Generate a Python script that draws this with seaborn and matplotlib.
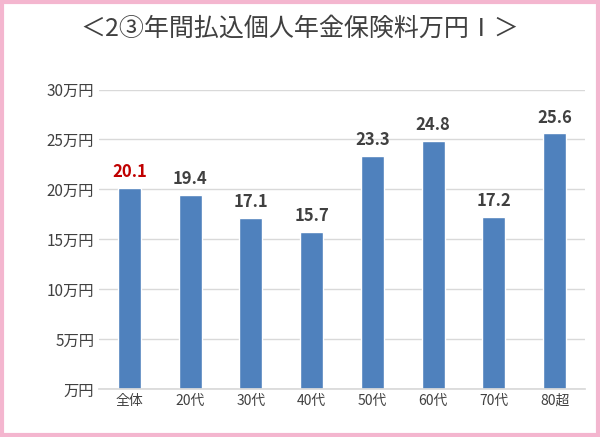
import matplotlib
matplotlib.use("Agg")
import matplotlib.pyplot as plt
import seaborn as sns
import pandas as pd
from matplotlib.patches import Rectangle

categories = ["全体", "20代", "30代", "40代", "50代", "60代", "70代", "80超"]
values = [20.1, 19.4, 17.1, 15.7, 23.3, 24.8, 17.2, 25.6]
yticks = [0, 5, 10, 15, 20, 25, 30]
ytick_labels = ["万円", "5万円", "10万円", "15万円", "20万円", "25万円", "30万円"]
title = "＜2③年間払込個人年金保険料万円Ⅰ＞"

sns.set_theme(style="white")
plt.rcParams['font.family'] = ['Noto Sans CJK JP', 'DejaVu Sans']

fig = plt.figure(figsize=(6, 4.37), dpi=100)
fig.patches.append(Rectangle((0.004, 0.005), 0.992, 0.99, transform=fig.transFigure,
                             fill=False, edgecolor="#F4B6CF", linewidth=3))
ax = fig.add_axes([0.165, 0.11, 0.81, 0.685])
df = pd.DataFrame({"cat": categories, "val": values})
sns.barplot(data=df, x="cat", y="val", color="#4F81BD", saturation=1, width=0.38, ax=ax)
ax.set_ylim(0, 30)
ax.set_yticks(yticks)
ax.set_yticklabels(ytick_labels, fontsize=11, color="#404040")
ax.tick_params(axis='x', labelsize=10, colors="#404040", length=0)
ax.tick_params(axis='y', length=0)
ax.set_xlabel(""); ax.set_ylabel("")
ax.grid(axis='y', color="#D9D9D9", linewidth=1)
ax.set_axisbelow(True)
for s in ["top", "right", "left"]:
    ax.spines[s].set_visible(False)
ax.spines["bottom"].set_color("#D9D9D9")
for i, v in enumerate(values):
    ax.text(i, v + 0.7, f"{v:.1f}", ha="center", va="bottom", fontsize=12, fontweight="bold",
            color="#C00000" if i == 0 else "#404040")
fig.text(0.5, 0.935, title, ha="center", va="center", fontsize=18, color="#404040")
fig.savefig("out.png", dpi=100)
